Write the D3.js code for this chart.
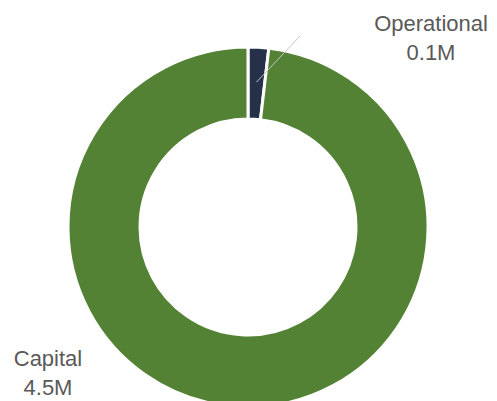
<!DOCTYPE html>
<html>
<head>
<meta charset="utf-8">
<script src="https://cdn.jsdelivr.net/npm/d3@7"></script>
<style>
  body { margin: 0; background: #fff; }
  text { font-family: "Liberation Sans", Arial, sans-serif; }
</style>
</head>
<body>
<svg width="497" height="401"></svg>
<script>
const categories = ['Operational', 'Capital'];
const values = [0.085, 4.52];
const valueLabels = ['0.1M', '4.5M'];
const colors = ['#243149', '#548235'];

const svg = d3.select('svg');
const cx = 248, cy = 227;
const outerR = 180, innerR = 108;

const pie = d3.pie().sort(null).value(d => d.value);
const arcs = pie(categories.map((c, i) => ({name: c, value: values[i], label: valueLabels[i], color: colors[i]})));

const arc = d3.arc().innerRadius(innerR).outerRadius(outerR);

const g = svg.append('g').attr('transform', `translate(${cx},${cy})`);

g.selectAll('path')
  .data(arcs)
  .join('path')
  .attr('d', arc)
  .attr('fill', d => d.data.color)
  .attr('stroke', '#fff')
  .attr('stroke-width', 3);

// leader line for the small slice
const small = arcs[0];
const mid = (small.startAngle + small.endAngle) / 2;
const p0 = [Math.sin(mid) * (outerR - 35), -Math.cos(mid) * (outerR - 35)];
g.append('line')
  .attr('x1', p0[0]).attr('y1', p0[1])
  .attr('x2', 52).attr('y2', -191)
  .attr('stroke', '#c8c8c8')
  .attr('stroke-width', 1);

// labels
const labelPos = [[431, 31], [48, 366]];
arcs.forEach((d, i) => {
  const t = svg.append('text')
    .attr('x', labelPos[i][0]).attr('y', labelPos[i][1])
    .attr('text-anchor', 'middle')
    .style('font-size', '22px')
    .style('fill', '#595959');
  t.append('tspan').attr('x', labelPos[i][0]).text(d.data.name);
  t.append('tspan').attr('x', labelPos[i][0]).attr('dy', 29).text(d.data.label);
});
</script>
</body>
</html>
